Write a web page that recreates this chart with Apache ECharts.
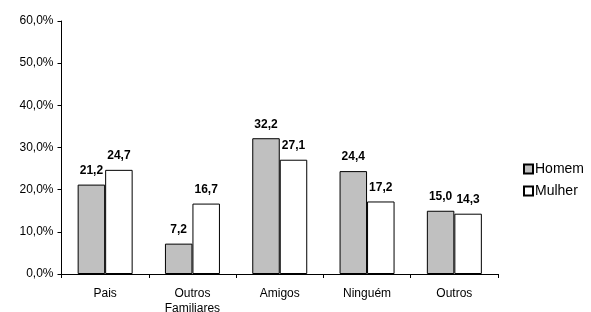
<!DOCTYPE html>
<html>
<head>
<meta charset="utf-8">
<script src="https://cdn.jsdelivr.net/npm/echarts@6/dist/echarts.min.js"></script>
<style>
html, body { margin: 0; padding: 0; background: #fff; }
#chart { width: 591px; height: 312px; }
</style>
</head>
<body>
<div id="chart"></div>
<script>
var categorias = ['Pais', 'Outros\nFamiliares', 'Amigos', 'Ninguém', 'Outros'];
var homem = [21.2, 7.2, 32.2, 24.4, 15.0];
var mulher = [24.7, 16.7, 27.1, 17.2, 14.3];
var nomes = ['Homem', 'Mulher'];

function virgula(v, casas) {
    return v.toFixed(casas).replace('.', ',');
}

var fonte = 'Arial, "Liberation Sans", sans-serif';

var rotulo = {
    show: true,
    position: 'top',
    distance: 8,
    fontFamily: fonte,
    fontSize: 12,
    fontWeight: 'bold',
    color: '#000',
    formatter: function (p) { return virgula(p.value, 1); }
};

var myChart = echarts.init(document.getElementById('chart'));
var option = {
    animation: false,
    textStyle: { fontFamily: fonte },
    grid: { left: 61.5, right: 93, top: 21, bottom: 38, containLabel: false, outerBoundsMode: 'none' },
    legend: {
        data: nomes,
        orient: 'vertical',
        left: 518,
        top: 157,
        icon: 'rect',
        itemWidth: 9,
        itemHeight: 9,
        itemGap: 8,
        textStyle: { fontFamily: fonte, fontSize: 14, color: '#000', padding: [0, 0, 0, -3] }
    },
    xAxis: {
        type: 'category',
        data: categorias,
        axisLine: { lineStyle: { color: '#000', width: 1 } },
        axisTick: { show: true, length: 4, lineStyle: { color: '#000' } },
        axisLabel: { color: '#000', fontSize: 12, fontFamily: fonte, margin: 12, lineHeight: 15 }
    },
    yAxis: {
        type: 'value',
        min: 0,
        max: 60,
        interval: 10,
        splitLine: { show: false },
        axisLine: { show: true, lineStyle: { color: '#000', width: 1 } },
        axisTick: { show: true, length: 4, lineStyle: { color: '#000' } },
        axisLabel: {
            color: '#000', fontSize: 12, fontFamily: fonte, margin: 8,
            formatter: function (v) { return virgula(v, 1) + '%'; }
        }
    },
    series: [{
        name: nomes[0],
        type: 'bar',
        data: homem,
        barGap: '0%',
        barCategoryGap: '37%',
        itemStyle: { color: '#c0c0c0', borderColor: '#000', borderWidth: 1 },
        label: rotulo
    }, {
        name: nomes[1],
        type: 'bar',
        data: mulher,
        itemStyle: { color: '#ffffff', borderColor: '#000', borderWidth: 1 },
        label: rotulo
    }]
};
myChart.setOption(option);
</script>
</body>
</html>
